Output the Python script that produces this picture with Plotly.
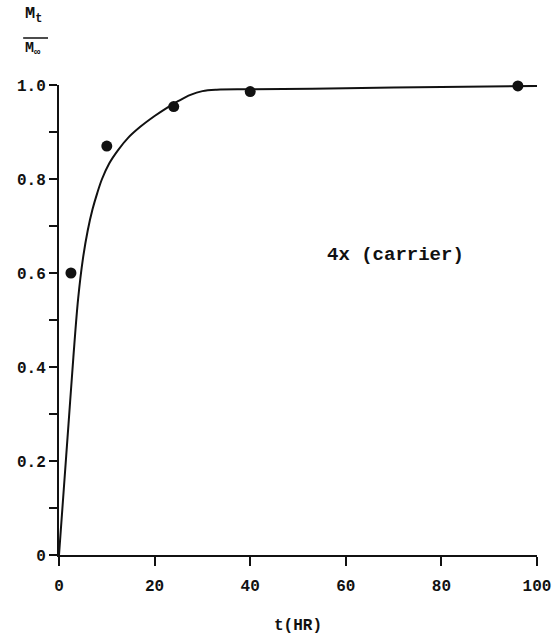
import plotly.graph_objects as go

# Measured release fraction Mt/M∞ versus time (hours)
t_obs = [2.5, 10, 24, 40, 96]
frac_obs = [0.60, 0.87, 0.954, 0.986, 0.998]

# Fitted release curve, traced as (t, fraction) pairs
t_fit = [0, 1, 2, 3, 4, 5, 6, 7, 8, 9, 10.5, 12.4, 14.5, 17, 20, 22.5, 25, 27.5, 30, 33, 40, 60, 80, 100]
frac_fit = [0, 0.14, 0.28, 0.42, 0.545, 0.63, 0.69, 0.735, 0.77, 0.80, 0.833, 0.862, 0.888,
            0.911, 0.934, 0.951, 0.966, 0.979, 0.987, 0.99, 0.991, 0.993, 0.996, 0.998]

x_ticks = [0, 20, 40, 60, 80, 100]
x_tick_text = ["0", "20", "40", "60", "80", "100"]
y_ticks = [0, 0.1, 0.2, 0.3, 0.4, 0.5, 0.6, 0.7, 0.8, 0.9, 1.0]
y_tick_text = ["0", "", "0.2", "", "0.4", "", "0.6", "", "0.8", "", "1.0"]

FONT = "Liberation Mono"
INK = "#111111"

fig = go.Figure()
fig.add_trace(go.Scatter(
    x=t_fit, y=frac_fit, mode="lines",
    line=dict(color=INK, width=2, shape="spline", smoothing=1.0),
    showlegend=False, hoverinfo="skip",
))
fig.add_trace(go.Scatter(
    x=t_obs, y=frac_obs, mode="markers",
    marker=dict(color=INK, size=11),
    showlegend=False, cliponaxis=False,
))

tick_font = dict(family=FONT, size=16, color=INK, weight="bold")
axis_common = dict(
    showgrid=False, zeroline=False, showline=True, linecolor=INK, linewidth=2,
    ticks="outside", tickcolor=INK, tickwidth=2, tickfont=tick_font, automargin=False,
)
fig.update_xaxes(
    range=[0, 100], tickmode="array", tickvals=x_ticks, ticktext=x_tick_text,
    ticklen=9, ticklabelstandoff=6,
    title=dict(text="t(HR)", font=tick_font, standoff=24),
    **axis_common,
)
fig.update_yaxes(
    range=[0, 1.0], tickmode="array", tickvals=y_ticks, ticktext=y_tick_text,
    ticklen=8,
    **axis_common,
)

# Fraction-style axis label Mt / M∞
fig.add_annotation(
    xref="paper", yref="paper", x=-0.075, y=1.148, xanchor="left", yanchor="middle",
    text="M<sub>t</sub>", showarrow=False, font=dict(family=FONT, size=17, color=INK, weight="bold"),
)
fig.add_annotation(
    xref="paper", yref="paper", x=-0.075, y=1.076, xanchor="left", yanchor="middle",
    text="M<sub>∞</sub>", showarrow=False, font=dict(family=FONT, size=15, color=INK, weight="bold"),
)
fig.add_shape(
    type="line", xref="paper", yref="paper", x0=-0.075, x1=-0.023, y0=1.1, y1=1.1,
    line=dict(color=INK, width=1.5),
)

fig.add_annotation(
    x=70.3, y=0.638, xref="x", yref="y", text="4x (carrier)", showarrow=False,
    font=dict(family=FONT, size=19, color=INK, weight="bold"),
)

fig.update_layout(
    width=555, height=637,
    margin=dict(l=59, r=18, t=85, b=82),
    paper_bgcolor="white", plot_bgcolor="white",
)

fig.write_html("out.html")
